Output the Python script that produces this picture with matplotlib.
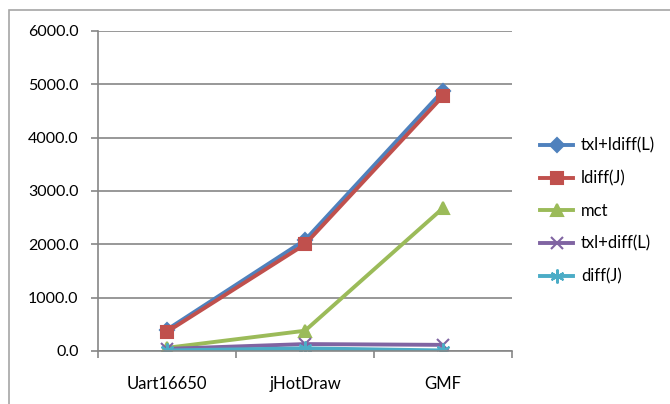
import numpy as np
import matplotlib.pyplot as plt
from matplotlib.patches import Rectangle

plt.rcParams['font.family'] = ['Lato', 'DejaVu Sans']

projects = ["Uart16650", "jHotDraw", "GMF"]
txl_ldiff_L = [400, 2080, 4880]
ldiff_J = [360, 2000, 4780]
mct = [60, 380, 2680]
txl_diff_L = [40, 130, 115]
diff_J = [10, 50, 10]

series = [
    ("txl+ldiff(L)", txl_ldiff_L, "#4F81BD", "D", 7),
    ("ldiff(J)", ldiff_J, "#C0504D", "s", 9),
    ("mct", mct, "#9BBB59", "^", 9),
    ("txl+diff(L)", txl_diff_L, "#8064A2", "x", 9),
    ("diff(J)", diff_J, "#4BACC6", (6, 2, 0), 10),
]

fig = plt.figure(figsize=(6.7, 4.04), dpi=100)
ax = fig.add_axes([98/670, 1-351/404, (512-98)/670, (351-31)/404])

x = np.arange(len(projects))
for name, vals, col, mk, ms in series:
    ax.plot(x, vals, color=col, lw=2.8, marker=mk, markersize=ms,
            markeredgewidth=1.5, markeredgecolor=col, label=name)

ax.set_xlim(-0.5, 2.5)
ax.set_ylim(0, 6000)
ax.set_yticks(np.arange(0, 6001, 1000))
ax.set_yticklabels(["%.1f" % v for v in np.arange(0, 6001, 1000)])
ax.set_xticks(x)
ax.set_xticklabels(projects, fontsize=12)
ax.set_xticks([-0.5, 0.5, 1.5, 2.5], minor=True)
ax.tick_params(axis='x', which='major', length=0, pad=18)
ax.tick_params(axis='x', which='minor', length=5, color='#868686', width=1.2)
ax.tick_params(axis='y', length=5, color='#868686', width=1.2, pad=9,
               labelsize=11.5)
ax.grid(axis='y', color='#868686', lw=1.2)
ax.set_axisbelow(True)
for s in ['top', 'right']:
    ax.spines[s].set_visible(False)
for s in ['left', 'bottom']:
    ax.spines[s].set_color('#868686')
    ax.spines[s].set_linewidth(1.2)

fig.legend(loc='center left', bbox_to_anchor=(540/670, 1-211/404),
           frameon=False, fontsize=12, handlelength=2.0, handletextpad=0.45,
           labelspacing=1.0, borderpad=0, borderaxespad=0)

fig.patches.append(Rectangle((9/670, -0.1), 1.0, 1-10/404+0.1,
                             transform=fig.transFigure, fill=False,
                             edgecolor='#A6A6A6', lw=1.2))

fig.savefig("out.png", dpi=100)
